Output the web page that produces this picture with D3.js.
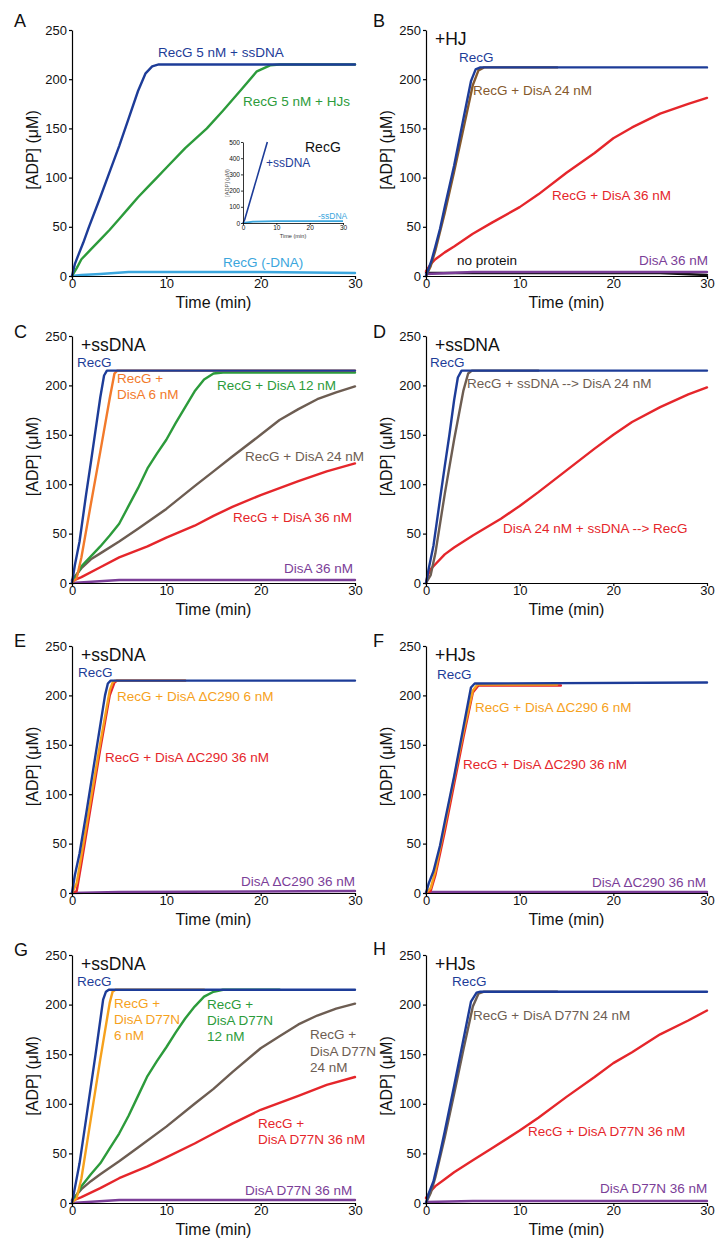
<!DOCTYPE html>
<html><head><meta charset="utf-8">
<script src="https://cdn.jsdelivr.net/npm/d3@7"></script>
<style>body{margin:0;background:#fff}svg{display:block}text{font-family:"Liberation Sans",Arial,Helvetica,sans-serif}</style>
</head><body><svg id="c" width="718" height="1239"></svg>
<script>
// ---------- tick labels ----------
const xTicks = [0, 10, 20, 30];
const yTicks = [0, 50, 100, 150, 200, 250];
const insetXTicks = [0, 10, 20, 30];
const insetYTicks = [0, 100, 200, 300, 400, 500];

// ---------- data: [time (min), ADP (uM)] ----------
// A
const aSsDNA = [[0,0],[0.3,12],[0.7,22],[1.2,34],[1.8,50],[3,80],[4,106],[5,132],[6,160],[7,188],[7.8,206],[8.5,213],[9.2,215],[30,215]];
const aHJs = [[0,0],[0.5,8],[1,17],[2,27],[3,37],[4,47],[5,58],[6,69],[7,80],[8,90],[9,100],[10,110],[12,130],[14.3,150],[16,168],[18,190],[19.6,208],[21,214],[22,215],[30,215]];
const aNoDNA = [[0,0],[1,1],[3,2],[6,4],[20,4],[30,3]];
const insetSs = [[0,0],[0.5,20],[7.3,500]];
const insetNo = [[0,0],[3,8],[10,11],[30,11]];
// B
const bRecG = [[0,0],[0.3,8],[0.6,16],[1,30],[1.5,48],[2,70],[3,112],[4,160],[4.8,198],[5.3,210],[5.8,212],[30,212]];
const bDisA24 = [[0,0],[0.5,10],[1,26],[2,64],[3,106],[4,150],[5,194],[5.6,209],[6.2,212],[14,212]];
const bDisA36 = [[0,5],[0.5,12],[1,17],[2,24],[3,30],[5,43],[7,54],[10,70],[12,83],[15,105],[18,125],[20,140],[22,151],[25,165],[28,175],[30,181]];
const bNone = [[0,3],[25,3],[30,1]];
const bDisAonly = [[0,2],[5,4],[30,4]];
// C
const cRecG = [[0,0],[0.3,18],[0.8,42],[1.5,90],[2,122],[2.5,155],[3,188],[3.4,210],[3.7,215],[30,215]];
const cDisA6 = [[0,0],[0.5,5],[1,26],[2,80],[3,133],[4,187],[4.5,212],[4.8,215],[30,215]];
const cDisA12 = [[0,0],[0.5,8],[1,17],[2,27],[3,37],[4,48],[5,60],[6,78],[7,96],[8,116],[9,131],[10,145],[11,162],[12,178],[13,194],[14,206],[15,212],[16,213],[30,213]];
const cDisA24 = [[0,3],[1,15],[2,24],[3,30],[5,42],[7,55],[10,75],[13,98],[15,113],[17,128],[20,150],[22,165],[24,176],[26,186],[28,193],[30,199]];
const cDisA36 = [[0,2],[1,6],[3,16],[5,26],[8,37],[10,46],[13,58],[15,68],[17,77],[20,89],[24,103],[27,113],[30,121]];
const cDisAonly = [[0,0],[5,3],[30,3]];
// D
const dRecG = [[0,0],[0.3,15],[0.8,38],[1.5,85],[2,118],[2.5,150],[3,185],[3.4,208],[3.8,215],[30,215]];
const dRecGfirst = [[0,0],[0.5,8],[1,30],[2,90],[3,145],[4,195],[4.5,212],[4.9,215],[12,215]];
const dDisAfirst = [[0,0],[0.2,8],[0.5,14],[1,19],[2,29],[3,36],[5,48],[8,65],[10,78],[12,92],[15,114],[18,136],[20,150],[22,163],[25,178],[28,191],[30,198]];
// E
const eRecG = [[0,0],[0.3,18],[0.8,40],[1.5,80],[2.5,140],[3.5,200],[3.8,212],[4.1,215],[30,215]];
const eD6 = [[0,0],[0.5,10],[1,38],[2,95],[3,152],[4,205],[4.3,213],[4.6,215],[12,215]];
const eD36 = [[0,0],[0.5,2],[1,30],[2,88],[3,146],[4,200],[4.5,213],[4.8,215],[12,215]];
const eDonly = [[0,0],[5,1],[30,2]];
// F
const fRecG = [[0,0],[0.3,10],[0.8,22],[1.5,48],[2,72],[3,118],[4,168],[4.8,208],[5.2,212],[30,213]];
const fD6 = [[0,0],[0.5,5],[1,22],[2,68],[3,116],[4,163],[5,205],[5.5,211],[14,211]];
const fD36 = [[0,0],[0.5,2],[1,18],[2,62],[3,110],[4,158],[5,203],[5.6,210],[14.4,210]];
const fDonly = [[0,1],[30,1]];
// G
const gRecG = [[0,0],[0.3,15],[0.8,40],[1.5,85],[2.5,150],[3.3,205],[3.6,213],[3.9,215],[30,215]];
const gD6 = [[0,0],[0.5,5],[1,25],[2,85],[3,145],[4,202],[4.3,213],[4.6,215],[14,215]];
const gD12 = [[0,0],[0.5,8],[1,17],[2,29],[3,40],[4,55],[5,70],[6,88],[7,108],[8,128],[9,143],[10,157],[11,172],[12,186],[13,198],[14,208],[15,213],[16,215],[22,215]];
const gD24 = [[0,3],[1,14],[2,22],[3,29],[5,42],[7,56],[10,77],[13,100],[15,115],[17,132],[20,156],[22,168],[24,180],[26,189],[28,196],[30,201]];
const gD36 = [[0,2],[1,6],[3,15],[5,25],[8,37],[10,46],[13,60],[15,70],[17,80],[20,94],[24,108],[27,119],[30,127]];
const gDonly = [[0,0],[5,3],[30,3]];
// H
const hRecG = [[0,0],[0.3,10],[0.8,22],[1.5,50],[2,72],[3,118],[4,165],[4.8,203],[5.4,212],[5.8,213],[30,213]];
const hD24 = [[0,0],[0.5,10],[1,26],[2,66],[3,110],[4,155],[5,198],[5.6,211],[6.2,213],[14,213]];
const hD36 = [[0,5],[0.5,12],[1,17],[2,24],[3,31],[5,43],[7,55],[10,73],[12,86],[15,107],[18,127],[20,141],[22,152],[25,170],[28,184],[30,194]];
const hDonly = [[0,1],[5,2],[30,2]];

// ---------- styles ----------
const C = {
  blue: "#1d3c98", green: "#2c9b3b", lblue: "#3ba6dd", orangeR: "#f27a2b",
  orange: "#f6a11c", brown: "#6d5d52", brownB: "#85592c", red: "#e5262b",
  purple: "#7b3e98", black: "#111"
};

const cols = [[72, 355], [426, 707]];
const rows = [[30, 276], [336, 583], [646, 893], [955, 1203]];

const panels = [
  {letter:"A", col:0, row:0, letterY:27, header:null,
   series:[[aNoDNA,C.lblue],[aHJs,C.green],[aSsDNA,C.blue]],
   labels:[["RecG 5 nM + ssDNA",C.blue,86,27],["RecG 5 nM + HJs",C.green,171,76],["RecG (-DNA)",C.lblue,151,237]]},
  {letter:"B", col:1, row:0, letterY:27, header:"+HJ",
   series:[[bNone,C.black],[bDisAonly,C.purple],[bDisA36,C.red],[bDisA24,C.brownB],[bRecG,C.blue]],
   labels:[["RecG",C.blue,33,32],["RecG + DisA 24 nM",C.brownB,47,65],["RecG + DisA 36 nM",C.red,126,170],["no protein",C.black,31,235],["DisA 36 nM",C.purple,213,235]]},
  {letter:"C", col:0, row:1, letterY:338, header:"+ssDNA",
   series:[[cDisAonly,C.purple],[cDisA36,C.red],[cDisA24,C.brown],[cDisA12,C.green],[cDisA6,C.orangeR],[cRecG,C.blue]],
   labels:[["RecG",C.blue,5,31],["RecG +",C.orangeR,45,47],["DisA 6 nM",C.orangeR,45,63],["RecG + DisA 12 nM",C.green,145,54],["RecG + DisA 24 nM",C.brown,173,125],["RecG + DisA 36 nM",C.red,161,186],["DisA 36 nM",C.purple,212,237]]},
  {letter:"D", col:1, row:1, letterY:338, header:"+ssDNA",
   series:[[dDisAfirst,C.red],[dRecGfirst,C.brown],[dRecG,C.blue]],
   labels:[["RecG",C.blue,4,31],["RecG + ssDNA --> DisA 24 nM",C.brown,41,52],["DisA 24 nM + ssDNA --> RecG",C.red,77,197]]},
  {letter:"E", col:0, row:2, letterY:647, header:"+ssDNA",
   series:[[eDonly,C.purple],[eD36,C.red],[eD6,C.orange],[eRecG,C.blue]],
   labels:[["RecG",C.blue,6,31],["RecG + DisA \u0394C290 6 nM",C.orange,45,55],["RecG + DisA \u0394C290 36 nM",C.red,33,116],["DisA \u0394C290 36 nM",C.purple,169,240]]},
  {letter:"F", col:1, row:2, letterY:647, header:"+HJs",
   series:[[fDonly,C.purple],[fD36,C.red],[fD6,C.orange],[fRecG,C.blue]],
   labels:[["RecG",C.blue,11,33],["RecG + DisA \u0394C290 6 nM",C.orange,49,66],["RecG + DisA \u0394C290 36 nM",C.red,37,123],["DisA \u0394C290 36 nM",C.purple,166,241]]},
  {letter:"G", col:0, row:3, letterY:956, header:"+ssDNA",
   series:[[gDonly,C.purple],[gD36,C.red],[gD24,C.brown],[gD12,C.green],[gD6,C.orange],[gRecG,C.blue]],
   labels:[["RecG",C.blue,5,31],["RecG +",C.orange,42,53],["DisA D77N",C.orange,42,69],["6 nM",C.orange,42,85],
           ["RecG +",C.green,135,54],["DisA D77N",C.green,135,70],["12 nM",C.green,135,86],
           ["RecG +",C.brown,238,84],["DisA D77N",C.brown,238,101],["24 nM",C.brown,238,117],
           ["RecG +",C.red,186,173],["DisA D77N 36 nM",C.red,186,189],["DisA D77N 36 nM",C.purple,173,240]]},
  {letter:"H", col:1, row:3, letterY:955, header:"+HJs",
   series:[[hDonly,C.purple],[hD36,C.red],[hD24,C.brown],[hRecG,C.blue]],
   labels:[["RecG",C.blue,26,31],["RecG + DisA D77N 24 nM",C.brown,47,65],["RecG + DisA D77N 36 nM",C.red,102,181],["DisA D77N 36 nM",C.purple,174,238]]}
];

const svg = d3.select("#c");
const FONT = '"Liberation Sans", Arial, Helvetica, sans-serif';

function styleAxis(g, fs) {
  g.selectAll("path.domain").attr("stroke", "#000").attr("stroke-width", 1.2);
  g.selectAll(".tick line").attr("stroke", "#000").attr("stroke-width", 1.2);
  g.selectAll(".tick text").attr("fill", "#111").style("font-size", fs + "px").style("font-family", FONT);
}

panels.forEach(p => {
  const [x0, x1] = cols[p.col];
  const [yT, yB] = rows[p.row];
  const x = d3.scaleLinear().domain([0, 30]).range([x0, x1]);
  const y = d3.scaleLinear().domain([0, 250]).range([yB, yT]);
  const g = svg.append("g");

  const line = d3.line().x(d => x(d[0])).y(d => y(d[1]));
  p.series.forEach(([data, color]) => {
    g.append("path").datum(data).attr("d", line).attr("fill", "none")
      .attr("stroke", color).attr("stroke-width", 2.4).attr("stroke-linejoin", "round").attr("stroke-linecap", "round");
  });

  const gx = g.append("g").attr("transform", `translate(0,${yB})`)
    .call(d3.axisBottom(x).tickValues(xTicks).tickSize(3).tickSizeOuter(0).tickPadding(0));
  styleAxis(gx, 13);
  const gy = g.append("g").attr("transform", `translate(${x0},0)`)
    .call(d3.axisLeft(y).tickValues(yTicks).tickSize(3).tickSizeOuter(0).tickPadding(2));
  styleAxis(gy, 13);

  g.append("text").attr("x", (x0 + x1) / 2).attr("y", yB + 32).attr("text-anchor", "middle")
    .style("font-size", "16px").attr("fill", "#111").text("Time (min)");
  const ylx = x0 - 34, yly = (yT + yB) / 2 - 3;
  g.append("text").attr("transform", `translate(${ylx},${yly}) rotate(-90)`).attr("text-anchor", "middle")
    .style("font-size", "16px").attr("fill", "#111").text("[ADP] (\u03BCM)");

  g.append("text").attr("x", p.col === 0 ? 14 : 373).attr("y", p.letterY)
    .style("font-size", "18px").attr("fill", "#111").text(p.letter);
  if (p.header) {
    g.append("text").attr("x", x0 + 9).attr("y", yT + 15).style("font-size", "17.5px").attr("fill", "#111").text(p.header);
  }
  p.labels.forEach(([t, c, dx, dy]) => {
    g.append("text").attr("x", x0 + dx).attr("y", yT + dy).style("font-size", "13.5px").attr("fill", c).text(t);
  });

  if (p.letter === "A") {
    const ix = d3.scaleLinear().domain([0, 30]).range([243, 343]);
    const iy = d3.scaleLinear().domain([0, 500]).range([223, 142]);
    const ig = svg.append("g");
    const il = d3.line().x(d => ix(d[0])).y(d => iy(d[1]));
    ig.append("path").datum(insetNo).attr("d", il).attr("fill", "none").attr("stroke", C.lblue).attr("stroke-width", 1.8);
    ig.append("path").datum(insetSs).attr("d", il).attr("fill", "none").attr("stroke", C.blue).attr("stroke-width", 1.6);
    const ax = ig.append("g").attr("transform", "translate(0,223)")
      .call(d3.axisBottom(ix).tickValues(insetXTicks).tickSize(2).tickSizeOuter(0).tickPadding(0));
    styleAxis(ax, 6.5);
    ax.selectAll("path.domain,.tick line").attr("stroke-width", 0.8);
    const ay = ig.append("g").attr("transform", "translate(243,0)")
      .call(d3.axisLeft(iy).tickValues(insetYTicks).tickSize(2).tickSizeOuter(0).tickPadding(1));
    styleAxis(ay, 6.5);
    ay.selectAll("path.domain,.tick line").attr("stroke-width", 0.8);
    ig.append("text").attr("x", 293).attr("y", 238).attr("text-anchor", "middle").style("font-size", "5.6px").attr("fill", "#333").text("Time (min)");
    ig.append("text").attr("transform", "translate(229,183) rotate(-90)").attr("text-anchor", "middle").style("font-size", "5.6px").attr("fill", "#555").text("[ADP] (\u03BCM)");
    ig.append("text").attr("x", 305).attr("y", 152).style("font-size", "14px").attr("fill", "#111").text("RecG");
    ig.append("text").attr("x", 266).attr("y", 167).style("font-size", "12px").attr("fill", C.blue).text("+ssDNA");
    ig.append("text").attr("x", 318).attr("y", 219).style("font-size", "8.5px").attr("fill", C.lblue).text("-ssDNA");
  }
});
</script></body></html>
